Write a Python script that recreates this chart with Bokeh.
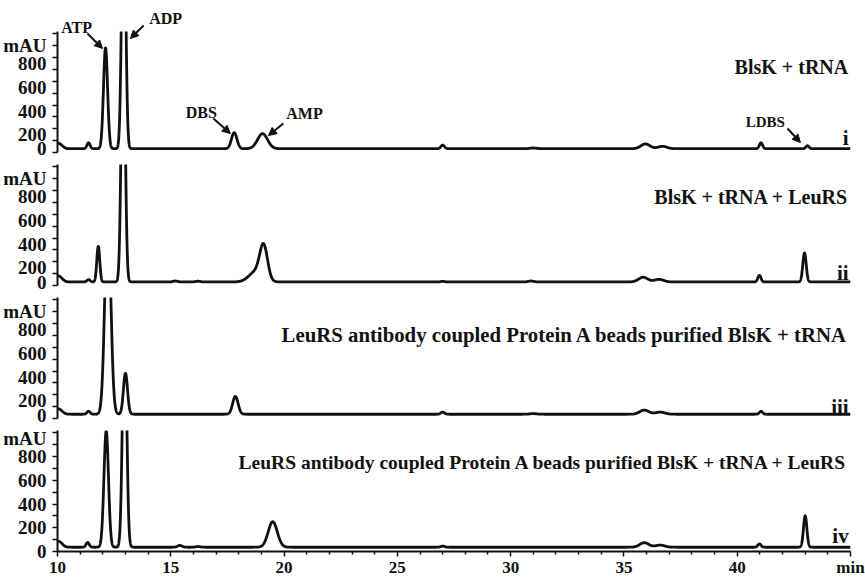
import numpy as np
from bokeh.plotting import figure
from bokeh.layouts import column
from bokeh.models import (Range1d, FixedTicker, Label, Arrow, NormalHead, BoxAnnotation,
                          LinearAxis)
from bokeh.embed import file_html
from bokeh.resources import INLINE

# ---------------- data ----------------
x_min, x_max = 10, 45
x_ticks = [10, 15, 20, 25, 30, 35, 40, 45]
x_tick_labels = ["10", "15", "20", "25", "30", "35", "40", "min"]
x_minor = [11, 12, 13, 14, 16, 17, 18, 19, 21, 22, 23, 24, 26, 27, 28, 29,
           31, 32, 33, 34, 36, 37, 38, 39, 41, 42, 43, 44]
y_max = 1020
y_tick_marks = [0, 100, 200, 300, 400, 500, 600, 700, 800, 900, 1000]
y_label_ticks = [0, 200, 400, 600, 800, 950]
y_tick_labels = ["0", "200", "400", "600", "800", "mAU"]

sample_labels = ["BlsK + tRNA",
                 "BlsK + tRNA + LeuRS",
                 "LeuRS antibody coupled Protein A beads purified BlsK + tRNA",
                 "LeuRS antibody coupled Protein A beads purified BlsK + tRNA + LeuRS"]
trace_ids = ["i", "ii", "iii", "iv"]

# baseline level of each chromatogram (mAU)
baseline_i, baseline_ii, baseline_iii, baseline_iv = 32, 30, 36, 36

# peak tables: retention time (min), height above baseline (mAU), width (sigma, min)
rt_i = [10.05, 11.37, 12.12, 12.92, 17.80, 19.05, 27.00, 31.00, 35.95, 36.70, 41.05, 43.10]
ht_i = [45, 50, 850, 2300, 135, 127, 30, 6, 40, 20, 50, 25]
wd_i = [0.15, 0.07, 0.09, 0.085, 0.12, 0.22, 0.08, 0.15, 0.20, 0.20, 0.07, 0.07]

rt_ii = [10.05, 11.37, 11.80, 12.90, 15.20, 16.20, 18.75, 19.10, 27.00, 30.90, 35.85, 36.55, 40.98, 42.97]
ht_ii = [50, 20, 300, 2300, 8, 6, 85, 280, 5, 8, 40, 22, 55, 245]
wd_ii = [0.15, 0.07, 0.065, 0.085, 0.10, 0.10, 0.30, 0.17, 0.08, 0.12, 0.20, 0.20, 0.07, 0.075]

rt_iii = [10.05, 11.37, 12.22, 13.00, 17.85, 27.00, 31.00, 35.90, 36.60, 41.05]
ht_iii = [45, 25, 1700, 345, 150, 18, 5, 35, 18, 25]
wd_iii = [0.15, 0.07, 0.13, 0.09, 0.12, 0.08, 0.15, 0.20, 0.20, 0.07]

rt_iv = [10.05, 11.33, 12.15, 12.96, 15.40, 16.20, 19.50, 27.00, 35.90, 36.60, 40.98, 43.00]
ht_iv = [50, 40, 980, 2000, 15, 6, 215, 10, 38, 18, 28, 265]
wd_iv = [0.15, 0.07, 0.10, 0.09, 0.10, 0.10, 0.20, 0.08, 0.20, 0.20, 0.07, 0.075]

# peak annotations on trace i: name, label position, arrow tail, arrow head (data units)
peak_names = ["ATP", "ADP", "DBS", "AMP", "LDBS"]
label_x = [10.84, 14.77, 16.35, 20.90, 41.24]
label_y = [1054, 1130, 337, 329, 253]
tail_x = [11.32, 13.80, 16.88, 19.97, 42.22]
tail_y = [1003, 1071, 287, 245, 202]
head_x = [11.99, 13.22, 17.63, 19.31, 42.79]
head_y = [877, 961, 160, 143, 84]

# ---------------- styling / layout ----------------
FONT = "Liberation Serif"
INK = "#111111"
W, LEFT, RIGHT = 865, 57, 15
PX_PER_UNIT = 121 / y_max          # 121 px for the 0..1020 axis
time = np.linspace(x_min, x_max, 7001)


def chromatogram(base, rts, hts, wds):
    y = np.full_like(time, float(base))
    for r, h, w in zip(rts, hts, wds):
        y += h * np.exp(-0.5 * ((time - r) / w) ** 2)
    return y


traces = [chromatogram(baseline_i, rt_i, ht_i, wd_i),
          chromatogram(baseline_ii, rt_ii, ht_ii, wd_ii),
          chromatogram(baseline_iii, rt_iii, ht_iii, wd_iii),
          chromatogram(baseline_iv, rt_iv, ht_iv, wd_iv)]

top_border = [0, 6, 5, 5]
above_zero_px = [152, 121, 121, 121]
below_zero_px = [6, 7, 7, 0]
label_shift_px = [6, 6, 6, 0]       # tick labels sit a few px below their ticks
text_y = [717, 750, 708, 750]
text_size = ["20px", "20px", "20.8px", "19.5px"]
id_y = [126, 109, 101, 134]

panels = []
for k in range(4):
    last = (k == 3)
    top_val = above_zero_px[k] / PX_PER_UNIT
    low_val = -below_zero_px[k] / PX_PER_UNIT
    shift = label_shift_px[k] / PX_PER_UNIT
    p = figure(frame_width=W - LEFT - RIGHT, frame_height=above_zero_px[k] + below_zero_px[k],
               min_border_left=LEFT, min_border_right=RIGHT,
               min_border_top=top_border[k], min_border_bottom=0,
               x_range=Range1d(x_min, x_max), y_range=Range1d(low_val, top_val),
               x_axis_location=None, y_axis_location=None,
               output_backend="svg", toolbar_location=None)
    p.outline_line_color = None
    p.grid.visible = False
    p.background_fill_color = "white"
    p.border_fill_color = "white"
    p.extra_y_ranges = {"lab": Range1d(low_val + shift, top_val + shift)}

    shown = traces[k]
    if k == 0:
        shown = np.minimum(shown, top_val - 40)   # off-scale part is masked below
    p.line(time, shown, line_color=INK, line_width=2.8, line_join="round")

    # axis line and tick marks (no labels)
    ya = LinearAxis(bounds=(0, y_max),
                    ticker=FixedTicker(ticks=[], minor_ticks=y_tick_marks),
                    axis_line_width=2, axis_line_color=INK,
                    major_tick_out=5, major_tick_in=0, minor_tick_out=5, minor_tick_in=0,
                    major_tick_line_width=1.5, minor_tick_line_width=1.5,
                    major_tick_line_color=INK, minor_tick_line_color=INK,
                    major_label_standoff=0)
    p.add_layout(ya, "left")
    # tick labels
    yl = LinearAxis(y_range_name="lab",
                    ticker=FixedTicker(ticks=y_label_ticks, minor_ticks=[]),
                    major_label_overrides={t: s for t, s in zip(y_label_ticks, y_tick_labels)},
                    axis_line_color=None, major_tick_line_color=None,
                    minor_tick_line_color=None, major_tick_out=0, major_tick_in=0,
                    minor_tick_out=0, minor_tick_in=0, major_label_standoff=6,
                    major_label_text_font=FONT, major_label_text_font_style="bold",
                    major_label_text_font_size="19px", major_label_text_color=INK)
    p.add_layout(yl, "left")

    if last:
        xa = LinearAxis(ticker=FixedTicker(ticks=x_ticks, minor_ticks=x_minor),
                        major_label_overrides={t: s for t, s in zip(x_ticks, x_tick_labels)},
                        axis_line_width=2, axis_line_color=INK,
                        major_tick_out=5, major_tick_in=0, minor_tick_out=3, minor_tick_in=0,
                        major_tick_line_width=1.5, minor_tick_line_width=1.5,
                        major_tick_line_color=INK, minor_tick_line_color=INK,
                        major_label_standoff=1, major_label_text_font=FONT,
                        major_label_text_font_style="bold",
                        major_label_text_font_size="17px", major_label_text_color=INK)
        p.add_layout(xa, "below")

    if k == 0:
        # off-scale region above the y-axis end is left blank, as in the original
        p.add_layout(BoxAnnotation(bottom=y_max, top=top_val * 3, fill_color="white",
                                   fill_alpha=1.0, line_alpha=0))

    p.add_layout(Label(x=44.9, y=text_y[k], text=sample_labels[k], text_align="right",
                       text_baseline="middle", text_font=FONT, text_font_style="bold",
                       text_font_size=text_size[k], text_color=INK))
    p.add_layout(Label(x=44.92, y=id_y[k], text=trace_ids[k], text_align="right",
                       text_baseline="alphabetic", text_font=FONT, text_font_style="bold",
                       text_font_size="21px", text_color=INK))

    if k == 0:
        for n, lx, ly, tx, ty, hx, hy in zip(peak_names, label_x, label_y,
                                             tail_x, tail_y, head_x, head_y):
            p.add_layout(Label(x=lx, y=ly, text=n, text_align="center",
                               text_baseline="middle", text_font=FONT,
                               text_font_style="bold",
                               text_font_size="15px" if n == "LDBS" else "16px",
                               text_color=INK))
            p.add_layout(Arrow(end=NormalHead(size=8, line_color=INK, fill_color=INK,
                                              line_width=1),
                               x_start=tx, y_start=ty, x_end=hx, y_end=hy,
                               line_color=INK, line_width=2))
    panels.append(p)

layout = column(*panels, spacing=0)
open("out.html", "w").write(file_html(layout, INLINE))
